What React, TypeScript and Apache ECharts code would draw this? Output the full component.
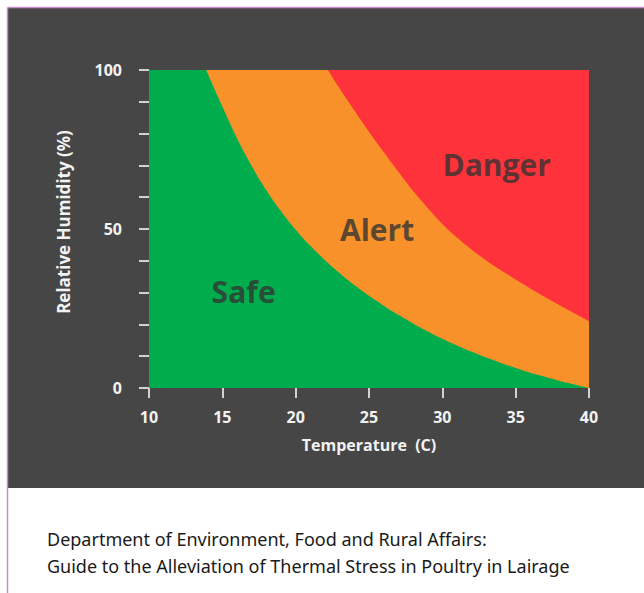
import React, { useEffect, useRef } from "react";
import * as echarts from "echarts";

// Temperature (C) along the green/orange (Safe / Alert) boundary
const alertTemp = [13.9, 15, 16, 17, 18, 19, 20, 21, 22, 23, 24, 25, 26, 27, 28, 29, 30, 31, 32, 33, 34, 35, 36, 37, 38, 39, 40];
// Relative humidity (%) at that boundary
const alertRH = [100, 88.5, 78.5, 69.8, 62.2, 55.6, 49.8, 44.7, 40.2, 36.1, 32.4, 29, 25.9, 23, 20.3, 17.8, 15.5, 13.4, 11.4, 9.6, 7.9, 6.3, 4.8, 3.5, 2.2, 1.1, 0];

// Temperature (C) along the orange/red (Alert / Danger) boundary
const dangerTemp = [22.2, 23, 24, 25, 26, 27, 28, 29, 30, 31, 32, 33, 34, 35, 36, 37, 38, 39, 40];
const dangerRH = [100, 94.2, 87.3, 80.6, 74.2, 68, 62, 56.6, 51.6, 47.3, 43.5, 40.1, 37, 34.1, 31.3, 28.6, 26, 23.5, 21];

// Zone labels and where they sit (data coords)
const zoneNames = ["Safe", "Alert", "Danger"];
const zoneTemp = [16.45, 25.55, 33.7];
const zoneRH = [30.3, 50, 70.4];

const xTicks = [10, 15, 20, 25, 30, 35, 40];
const yLabelled = [0, 50, 100];

const captionLines = [
  "Department of Environment, Food and Rural Affairs:",
  "Guide to the Alleviation of Thermal Stress in Poultry in Lairage",
];

const FONT = "'Open Sans', 'DejaVu Sans', sans-serif";
const TICK_COLOR = "#d2d2d2";

export default function App() {
  const ref = useRef<HTMLDivElement>(null);

  useEffect(() => {
    if (!ref.current) return;
    const chart = echarts.init(ref.current, undefined, { renderer: "svg" });
    const zip = (xs: number[], ys: number[]) => xs.map((x, i) => [x, ys[i]]);

    chart.setOption({
      animation: false,
      backgroundColor: "transparent",
      grid: {
        left: 149,
        top: 70,
        width: 440,
        height: 318,
        show: true,
        backgroundColor: "#01ac4d",
        borderWidth: 0,
      },
      xAxis: {
        type: "value",
        min: xTicks[0],
        max: xTicks[xTicks.length - 1],
        interval: 5,
        name: "Temperature  (C)",
        nameLocation: "middle",
        nameGap: 49,
        nameTextStyle: { color: "#f2f2f2", fontFamily: FONT, fontWeight: "bold", fontSize: 16 },
        axisLine: { show: false },
        splitLine: { show: false },
        axisTick: { show: true, length: 10, lineStyle: { color: TICK_COLOR, width: 2 } },
        axisLabel: {
          margin: 21,
          color: "#f2f2f2",
          fontFamily: FONT,
          fontWeight: "bold",
          fontSize: 16,
        },
      },
      yAxis: {
        type: "value",
        min: 0,
        max: 100,
        interval: 10,
        name: "Relative Humidity (%)",
        nameLocation: "middle",
        nameGap: 77,
        nameTextStyle: {
          color: "#f2f2f2",
          fontFamily: FONT,
          fontWeight: "bold",
          fontSize: 17,
          padding: [0, 0, 0, 14],
        },
        axisLine: { show: false },
        splitLine: { show: false },
        axisTick: { show: true, length: 10, lineStyle: { color: TICK_COLOR, width: 2 } },
        axisLabel: {
          margin: 27,
          color: "#f2f2f2",
          fontFamily: FONT,
          fontWeight: "bold",
          fontSize: 16,
          formatter: (v: number) => (yLabelled.includes(v) ? String(v) : ""),
        },
      },
      graphic: [
        {
          type: "rect",
          z: -100,
          silent: true,
          shape: { x: 8, y: 8, width: 640, height: 480 },
          style: { fill: "#464646" },
        },
        {
          type: "line",
          z: -99,
          silent: true,
          shape: { x1: 7.5, y1: 7.5, x2: 644, y2: 7.5 },
          style: { stroke: "#c98ccb", lineWidth: 1.5 },
        },
        {
          type: "line",
          z: -99,
          silent: true,
          shape: { x1: 7.5, y1: 7.5, x2: 7.5, y2: 593 },
          style: { stroke: "#c98ccb", lineWidth: 1.5 },
        },
        ...captionLines.map((t, i) => ({
          type: "text",
          x: 47,
          y: 539 + i * 26.5,
          style: {
            text: t,
            fill: "#1a1a1a",
            font: "18px 'Noto Sans', Roboto, sans-serif",
            textVerticalAlign: "middle",
          },
        })),
      ],
      series: [
        {
          name: "Alert",
          type: "line",
          data: zip(alertTemp, alertRH),
          smooth: 0.4,
          showSymbol: false,
          lineStyle: { width: 0 },
          areaStyle: { color: "#f8912a", opacity: 1, origin: "end" },
          z: 2,
        },
        {
          name: "Danger",
          type: "line",
          data: zip(dangerTemp, dangerRH),
          smooth: 0.4,
          showSymbol: false,
          lineStyle: { width: 0 },
          areaStyle: { color: "#fe323a", opacity: 1, origin: "end" },
          z: 3,
        },
        {
          name: "labels",
          type: "scatter",
          symbolSize: 0,
          z: 5,
          data: zoneNames.map((n, i) => [zoneTemp[i], zoneRH[i], n]),
          label: {
            show: true,
            position: "inside",
            formatter: (p: any) => p.data[2],
            color: "#333333",
            fontFamily: FONT,
            fontWeight: "bold",
            fontSize: 30,
          },
        },
      ],
    });
    return () => chart.dispose();
  }, []);

  return (
    <div
      ref={ref}
      style={{ position: "absolute", left: 0, top: 0, width: 644, height: 593, background: "#ffffff" }}
    />
  );
}
